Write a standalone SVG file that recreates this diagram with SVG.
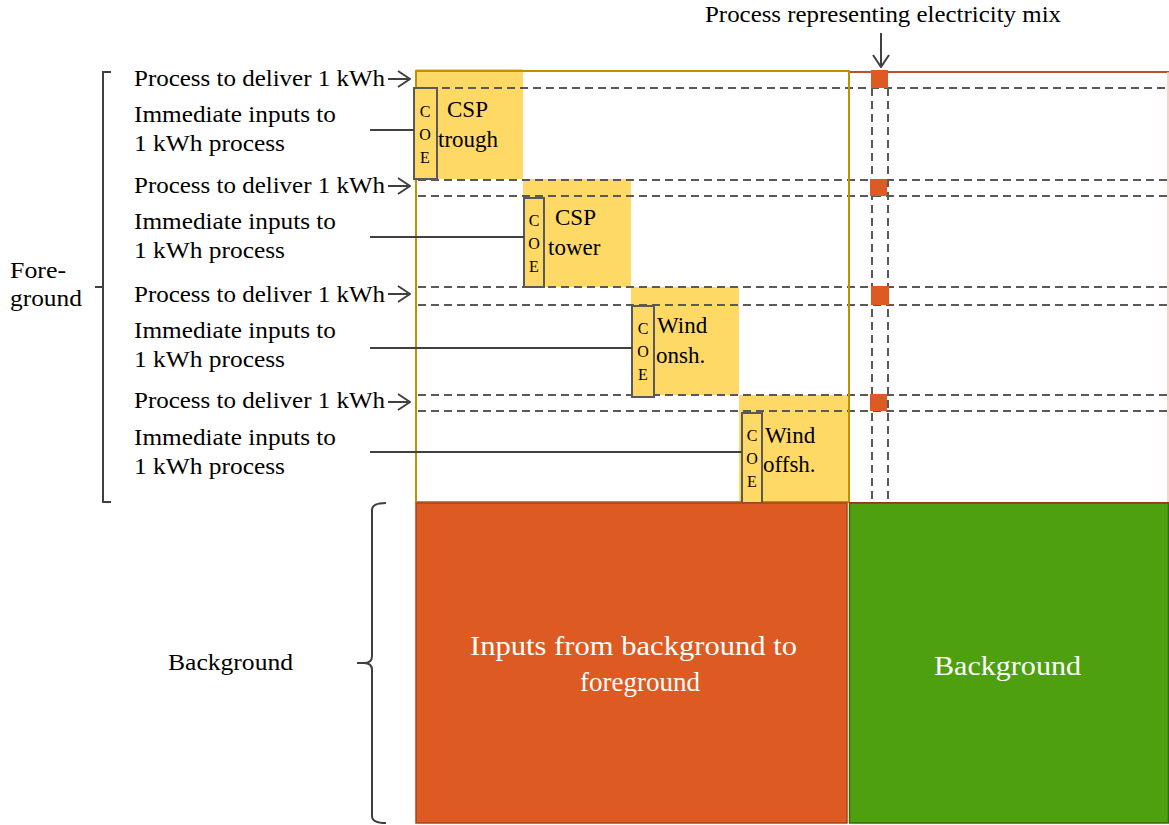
<svg xmlns="http://www.w3.org/2000/svg" width="1169" height="825" viewBox="0 0 1169 825">
<style>
.t{font-family:"Liberation Serif","Times New Roman",serif;font-size:23px;fill:#000}
.coe{font-family:"Liberation Serif","Times New Roman",serif;font-size:16px;fill:#000;text-anchor:middle}
.w{font-family:"Liberation Serif","Times New Roman",serif;font-size:27px;fill:#fff}
.blk{fill:#FFD966}
.dash{stroke:#595959;stroke-width:2;stroke-dasharray:8 5;fill:none}
.sq{fill:#DD5A22}
.box{fill:#FFD966;stroke:#595959;stroke-width:2}
.ln{stroke:#404040;stroke-width:2;fill:none}
.br{stroke:#404040;stroke-width:2;fill:none}
</style>
<defs>
<marker id="chev" viewBox="0 0 14 18" refX="13" refY="9" markerWidth="14" markerHeight="18" markerUnits="userSpaceOnUse" orient="auto">
<path d="M1 1 L13 9 L1 17" fill="none" stroke="#404040" stroke-width="2"/>
</marker>
</defs>
<rect width="1169" height="825" fill="#fff"/>

<g id="foreground-blocks">
<rect class="blk" x="416" y="69" width="107" height="110"/>
<rect class="blk" x="523" y="179" width="108" height="108"/>
<rect class="blk" x="631" y="287" width="108" height="108"/>
<rect class="blk" x="739" y="395" width="110" height="107"/>
</g>

<g id="grid">
<line class="dash" x1="416" y1="88" x2="1167" y2="88"/>
<line class="dash" x1="418" y1="180" x2="1167" y2="180"/>
<line class="dash" x1="418" y1="196" x2="1167" y2="196"/>
<line class="dash" x1="418" y1="287" x2="1167" y2="287"/>
<line class="dash" x1="418" y1="305" x2="1167" y2="305"/>
<line class="dash" x1="418" y1="395" x2="1167" y2="395"/>
<line class="dash" x1="418" y1="411" x2="1167" y2="411"/>
<line class="dash" x1="872" y1="88" x2="872" y2="502"/>
<line class="dash" x1="888" y1="88" x2="888" y2="502"/>
</g>

<g id="right-region">
<line x1="849" y1="72" x2="1169" y2="72" stroke="#C0502A" stroke-width="2"/>
<line x1="1168" y1="72" x2="1168" y2="502" stroke="#F2C9B0" stroke-width="1.5"/>
</g>

<g id="mix-squares">
<rect class="sq" x="871" y="70" width="17" height="18"/>
<rect class="sq" x="870" y="179" width="17" height="17"/>
<rect class="sq" x="871" y="286" width="18" height="19"/>
<rect class="sq" x="870" y="394" width="17" height="17"/>
</g>

<g id="foreground-box">
<rect x="416" y="71" width="433" height="431" fill="none" stroke="#BF9000" stroke-width="2"/>
</g>

<g id="node-csp-trough">
<rect class="box" x="414" y="88" width="23" height="91"/>
<text class="coe" x="425" y="117">C</text><text class="coe" x="425" y="140">O</text><text class="coe" x="425" y="163">E</text>
<text class="t" x="447" y="117">CSP</text>
<text class="t" x="438" y="147">trough</text>
</g>
<g id="node-csp-tower">
<rect class="box" x="524" y="198" width="20" height="89"/>
<text class="coe" x="534" y="226">C</text><text class="coe" x="534" y="249">O</text><text class="coe" x="534" y="272">E</text>
<text class="t" x="555" y="225">CSP</text>
<text class="t" x="548" y="255">tower</text>
</g>
<g id="node-wind-onsh">
<rect class="box" x="632" y="306" width="22" height="91"/>
<text class="coe" x="643" y="334">C</text><text class="coe" x="643" y="357">O</text><text class="coe" x="643" y="380">E</text>
<text class="t" x="657" y="333">Wind</text>
<text class="t" x="656" y="363">onsh.</text>
</g>
<g id="node-wind-offsh">
<rect class="box" x="742" y="413" width="20" height="90"/>
<text class="coe" x="752" y="441">C</text><text class="coe" x="752" y="464">O</text><text class="coe" x="752" y="487">E</text>
<text class="t" x="765" y="443">Wind</text>
<text class="t" x="763" y="472">offsh.</text>
</g>

<g id="background-inputs">
<rect x="416" y="503" width="431" height="320" fill="#DD5A22" stroke="#A9441A" stroke-width="1.5"/>
<text class="w" x="470" y="655" textLength="327" lengthAdjust="spacingAndGlyphs">Inputs from background to</text>
<text class="w" x="640" y="691" text-anchor="middle">foreground</text>
</g>
<g id="background-matrix">
<rect x="849.5" y="503" width="319" height="320" fill="#4EA00E" stroke="#2E6E0C" stroke-width="1.5"/>
<line x1="849" y1="502.5" x2="1169" y2="502.5" stroke="#8A3A14" stroke-width="1"/>
<text class="w" x="934" y="675" textLength="147" lengthAdjust="spacingAndGlyphs">Background</text>
</g>

<g id="labels">
<text class="t" x="705" y="22" textLength="356" lengthAdjust="spacingAndGlyphs">Process representing electricity mix</text>
<text class="t" x="134" y="86" textLength="251" lengthAdjust="spacingAndGlyphs">Process to deliver 1 kWh</text>
<text class="t" x="134" y="122" textLength="202" lengthAdjust="spacingAndGlyphs">Immediate inputs to</text>
<text class="t" x="134" y="151" textLength="151" lengthAdjust="spacingAndGlyphs">1 kWh process</text>
<text class="t" x="134" y="193" textLength="251" lengthAdjust="spacingAndGlyphs">Process to deliver 1 kWh</text>
<text class="t" x="134" y="229" textLength="202" lengthAdjust="spacingAndGlyphs">Immediate inputs to</text>
<text class="t" x="134" y="258" textLength="151" lengthAdjust="spacingAndGlyphs">1 kWh process</text>
<text class="t" x="134" y="302" textLength="251" lengthAdjust="spacingAndGlyphs">Process to deliver 1 kWh</text>
<text class="t" x="134" y="338" textLength="202" lengthAdjust="spacingAndGlyphs">Immediate inputs to</text>
<text class="t" x="134" y="367" textLength="151" lengthAdjust="spacingAndGlyphs">1 kWh process</text>
<text class="t" x="134" y="408" textLength="251" lengthAdjust="spacingAndGlyphs">Process to deliver 1 kWh</text>
<text class="t" x="134" y="445" textLength="202" lengthAdjust="spacingAndGlyphs">Immediate inputs to</text>
<text class="t" x="134" y="474" textLength="151" lengthAdjust="spacingAndGlyphs">1 kWh process</text>
<text class="t" x="10" y="278" textLength="56" lengthAdjust="spacingAndGlyphs">Fore-</text>
<text class="t" x="10" y="306" textLength="72" lengthAdjust="spacingAndGlyphs">ground</text>
<text class="t" x="168" y="670" textLength="125" lengthAdjust="spacingAndGlyphs">Background</text>
</g>

<g id="connectors">
<line class="ln" x1="881" y1="33" x2="881" y2="67" marker-end="url(#chev)"/>
<line class="ln" x1="388" y1="79" x2="410" y2="79" marker-end="url(#chev)"/>
<line class="ln" x1="388" y1="186" x2="410" y2="186" marker-end="url(#chev)"/>
<line class="ln" x1="388" y1="294" x2="410" y2="294" marker-end="url(#chev)"/>
<line class="ln" x1="388" y1="402" x2="410" y2="402" marker-end="url(#chev)"/>
<line class="ln" x1="370" y1="130" x2="414" y2="130"/>
<line class="ln" x1="370" y1="237" x2="524" y2="237"/>
<line class="ln" x1="370" y1="348" x2="632" y2="348"/>
<line class="ln" x1="370" y1="452" x2="742" y2="452"/>
<path class="br" d="M111 72 H103 V502 H111 M103 287 H95"/>
<path class="br" d="M386 503 Q372 503 372 510 V656 Q372 663 364 663 H357 M364 663 Q372 663 372 670 V816 Q372 823 386 823"/>
</g>
</svg>
